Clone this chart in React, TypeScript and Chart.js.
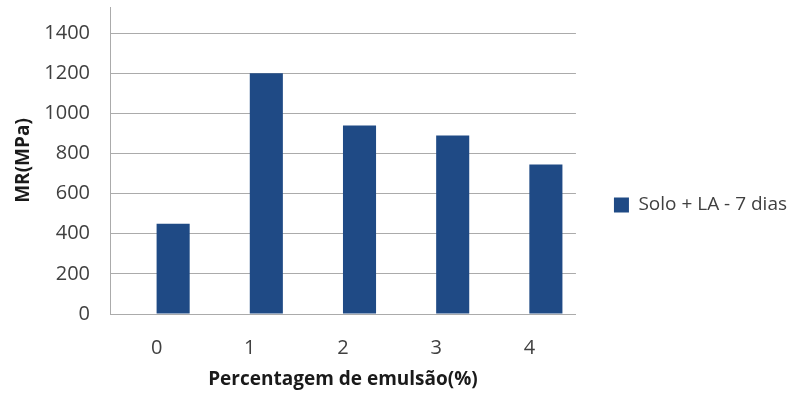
import { useEffect, useRef } from 'react';
import { Chart, registerables } from 'chart.js';

Chart.register(...registerables);

// Emulsion content (%) on the x axis
const categories = ['0', '1', '2', '3', '4'];
// Resilient modulus after 7 days of curing, MPa
const mrValues = [450, 1200, 940, 890, 745];
// Empty companion series: keeps a free slot left of each bar
const spacerValues = [null, null, null, null, null];

const seriesLabel = 'Solo + LA - 7 dias';
const xTitle = 'Percentagem de emulsão(%)';
const yTitle = 'MR(MPa)';

const yTickStep = 200;
const yTickMax = 1400;
const yAxisTop = 1530;

const BAR_COLOR = '#1f4a85';
const GRID_COLOR = '#ababab';
const FONT = '"Open Sans", "Noto Sans", sans-serif';

export default function App() {
  const canvasRef = useRef<HTMLCanvasElement | null>(null);

  useEffect(() => {
    document.body.style.margin = '0';
    const canvas = canvasRef.current;
    if (!canvas) return;

    const chart = new Chart(canvas, {
      type: 'bar',
      data: {
        labels: categories,
        datasets: [
          {
            label: '',
            data: spacerValues,
            backgroundColor: 'rgba(0,0,0,0)',
          },
          {
            label: seriesLabel,
            data: mrValues,
            backgroundColor: BAR_COLOR,
            borderWidth: 0,
          },
        ],
      },
      options: {
        responsive: false,
        animation: false,
        devicePixelRatio: 1,
        layout: { padding: { top: 7, bottom: -9, left: 0, right: -7 } },
        datasets: {
          bar: { categoryPercentage: 0.71, barPercentage: 1.0 },
        },
        plugins: {
          tooltip: { enabled: false },
          legend: {
            position: 'right',
            maxWidth: 260,
            labels: {
              filter: (item) => item.text !== '',
              boxWidth: 15,
              boxHeight: 15,
              padding: 38,
              color: '#404040',
              font: { family: FONT, size: 19 },
            },
          },
        },
        scales: {
          x: {
            grid: { display: false, drawTicks: false },
            border: { display: true, color: GRID_COLOR, width: 1 },
            ticks: {
              color: '#404040',
              padding: 22,
              font: { family: FONT, size: 20 },
            },
            title: {
              display: true,
              text: xTitle,
              color: '#1a1a1a',
              padding: { top: 0, bottom: 12 },
              font: { family: FONT, size: 19, weight: 'bold' },
            },
            afterFit: (scale) => {
              scale.height = 89;
            },
          },
          y: {
            min: 0,
            max: yAxisTop,
            grid: { color: GRID_COLOR, lineWidth: 1, drawTicks: false },
            border: { display: true, color: GRID_COLOR, width: 1 },
            ticks: {
              stepSize: yTickStep,
              color: '#404040',
              padding: 20,
              font: { family: FONT, size: 20 },
              callback: (value) => String(value),
            },
            afterBuildTicks: (scale) => {
              scale.ticks = scale.ticks.filter((t) => t.value <= yTickMax);
            },
            title: {
              display: true,
              text: yTitle,
              color: '#1a1a1a',
              padding: { top: 12, bottom: 0 },
              font: { family: FONT, size: 19, weight: 'bold' },
            },
            afterFit: (scale) => {
              scale.width = 110;
              scale.paddingTop = 0;
              scale.paddingBottom = 0;
            },
          },
        },
      },
    });

    return () => chart.destroy();
  }, []);

  return (
    <div style={{ width: 790, height: 394, background: '#ffffff' }}>
      <canvas ref={canvasRef} width={790} height={394} style={{ display: 'block' }} />
    </div>
  );
}
